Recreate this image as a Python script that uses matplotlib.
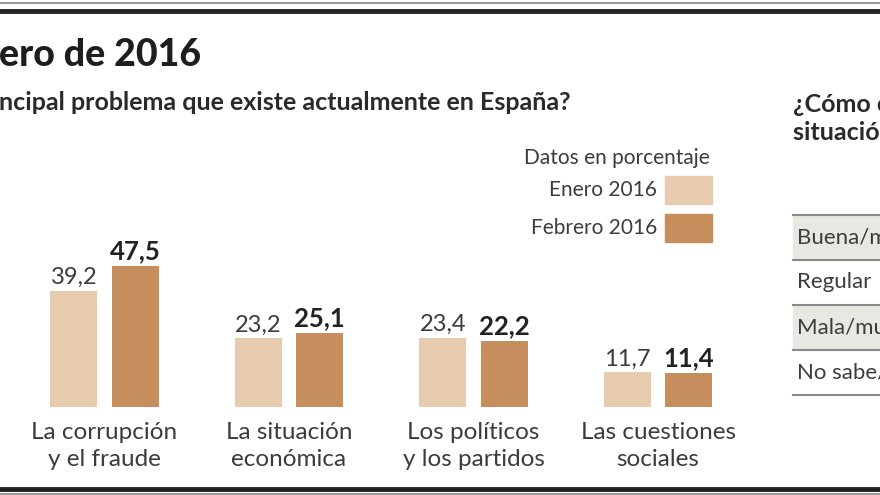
import matplotlib
matplotlib.use("Agg")
import matplotlib.pyplot as plt
import numpy as np
from matplotlib.patches import Rectangle
from matplotlib.lines import Line2D

png_outfile = "out.png"

categories = ["La corrupción\ny el fraude", "La situación\neconómica",
              "Los políticos\ny los partidos", "Las cuestiones\nsociales"]
enero_2016 = [39.2, 23.2, 23.4, 11.7]
febrero_2016 = [47.5, 25.1, 22.2, 11.4]
series_names = ["Enero 2016", "Febrero 2016"]
enero_labels = ["39,2", "23,2", "23,4", "11,7"]
febrero_labels = ["47,5", "25,1", "22,2", "11,4"]

table_rows = ["Buena/muy buena", "Regular", "Mala/muy mala", "No sabe/No contesta"]

title = "ero de 2016"
subtitle = "ncipal problema que existe actualmente en España?"
right_question = "¿Cómo calificaría la\nsituación económica?"

light_col = "#e6cbae"
dark_col = "#c68e5c"
text_col = "#3c3c3c"

plt.rcParams['font.family'] = ['Lato', 'DejaVu Sans']

W, H = 880, 495


def fx(px):
    return px / W


def fy(py):
    return 1 - py / H


def main():
    fig = plt.figure(figsize=(8.8, 4.95), dpi=100)
    fig.patch.set_facecolor("white")

    # bar area: baseline at 407 px, 2.96 px per percent point, groups 184.5 px apart
    px_per_unit = 2.96
    group_px = 184.5
    first_center = 104.5
    ax = fig.add_axes([0, 88 / H, 1, 407 / H])
    ax.set_xlim(-first_center / group_px, (W - first_center) / group_px)
    ax.set_ylim(0, 407 / px_per_unit)
    ax.axis("off")

    x = np.arange(len(categories))
    width = 47 / group_px
    off = 61.5 / 2 / group_px
    ax.bar(x - off, enero_2016, width, color=light_col)
    ax.bar(x + off, febrero_2016, width, color=dark_col)

    for i in range(len(categories)):
        ax.annotate(enero_labels[i], (x[i] - off, enero_2016[i]), xytext=(0, 2),
                    textcoords="offset points", ha="center", va="bottom",
                    fontsize=17, color=text_col)
        ax.annotate(febrero_labels[i], (x[i] + off, febrero_2016[i]), xytext=(0, 2),
                    textcoords="offset points", ha="center", va="bottom",
                    fontsize=18.5, fontweight="bold", color="#222222")
        ax.annotate(categories[i], (x[i], 0), xytext=(0, -11),
                    textcoords="offset points", ha="center", va="top",
                    fontsize=17.5, color=text_col, linespacing=1.35)

    # titles
    fig.text(fx(-1), fy(66), title, fontsize=27, fontweight=900,
             color="#1e1e1e", va="baseline")
    fig.text(fx(-1), fy(110), subtitle, fontsize=18, fontweight="bold",
             color="#2a2a2a", va="baseline")
    fig.text(fx(793), fy(93), right_question, fontsize=18, fontweight="bold",
             color="#2a2a2a", va="top", linespacing=1.25)

    # legend
    fig.text(fx(710), fy(158), "Datos en porcentaje", fontsize=15,
             color=text_col, ha="right", va="center")
    for name, col, yc in zip(series_names, [light_col, dark_col], [190, 228]):
        fig.text(fx(657), fy(yc), name, fontsize=15, color=text_col,
                 ha="right", va="center")
        fig.patches.append(Rectangle((fx(665), fy(yc + 14)), 47 / W, 28 / H,
                                     transform=fig.transFigure, color=col))

    # right table
    row_h = 45
    top = 215
    for i, row in enumerate(table_rows):
        y0 = top + i * row_h
        if i % 2 == 0:
            fig.patches.append(Rectangle((fx(793), fy(y0 + row_h)), 1, row_h / H,
                                         transform=fig.transFigure,
                                         color="#e8e8e2", zorder=0))
        fig.text(fx(797), fy(y0 + row_h / 2), row, fontsize=16,
                 color=text_col, va="center")
    for i in range(len(table_rows) + 1):
        yl = fy(top + i * row_h)
        fig.lines.append(Line2D([fx(793), 1], [yl, yl], transform=fig.transFigure,
                                color="#8a8a8a", lw=1.5))

    # frame lines
    fig.lines.append(Line2D([0, 1], [fy(3), fy(3)], transform=fig.transFigure,
                            color="#9a9a9a", lw=1.5))
    fig.lines.append(Line2D([0, 1], [fy(11), fy(11)], transform=fig.transFigure,
                            color="#222222", lw=3.5))
    fig.lines.append(Line2D([0, 1], [fy(489), fy(489)], transform=fig.transFigure,
                            color="#222222", lw=3.5))
    fig.lines.append(Line2D([0, 1], [fy(493.5), fy(493.5)], transform=fig.transFigure,
                            color="#9a9a9a", lw=1.5))

    fig.savefig(png_outfile, dpi=100)


if __name__ == "__main__":
    main()
